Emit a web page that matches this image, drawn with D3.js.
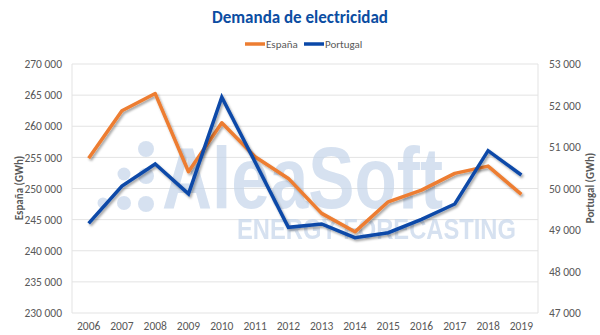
<!DOCTYPE html>
<html><head><meta charset="utf-8">
<script src="https://cdn.jsdelivr.net/npm/d3@7"></script>
<style>body{margin:0;background:#fff}svg{display:block;font-family:Calibri,Carlito,"Liberation Sans",Arial,sans-serif}</style>
</head><body><svg id="c" width="600" height="335"></svg>
<script>
const years = ["2006","2007","2008","2009","2010","2011","2012","2013","2014","2015","2016","2017","2018","2019"];
const espana = [254840,262490,265250,252690,260560,255100,251620,246000,243040,247860,249740,252430,253600,249050];
const portugal = [49160,50060,50590,49870,52200,50640,49065,49145,48815,48935,49257,49627,50911,50325];
const leftTicks = [230000,235000,240000,245000,250000,255000,260000,265000,270000];
const rightTicks = [47000,48000,49000,50000,51000,52000,53000];

const svg = d3.select("#c");
const L = 72, R = 538, T = 64, B = 313;
const x = d3.scaleBand().domain(years).range([L, R]);
const yL = d3.scaleLinear().domain([230000, 270000]).range([B, T]);
const yR = d3.scaleLinear().domain([47000, 53000]).range([B, T]);
const fmt = v => d3.format(",")(v).replace(/,/g, " ");

const defs = svg.append("defs");
const f = defs.append("filter").attr("id","sh").attr("x","-10%").attr("y","-10%").attr("width","120%").attr("height","130%");
f.append("feDropShadow").attr("dx",1.5).attr("dy",2).attr("stdDeviation",1.3).attr("flood-color","#000").attr("flood-opacity",0.35);

// gridlines
svg.append("g").selectAll("line").data(leftTicks).join("line")
  .attr("x1", L).attr("x2", R).attr("y1", d => yL(d)).attr("y2", d => yL(d))
  .attr("stroke", "#e3e3e3").attr("stroke-width", 1);
svg.append("line").attr("x1",L).attr("x2",L).attr("y1",T).attr("y2",B).attr("stroke","#e3e3e3");
svg.append("line").attr("x1",R).attr("x2",R).attr("y1",T).attr("y2",B).attr("stroke","#e3e3e3");

// watermark
const wm = svg.append("g").attr("fill", "#c5d5ea").attr("opacity", 0.7);
[[103,203,5.5],[124,174,6.5],[124,203,7],[146,149,8],[146,176,8],[146,204,8]].forEach(([cx,cy,r]) =>
  wm.append("circle").attr("cx",cx).attr("cy",cy).attr("r",r));
function wmText(txt, x0, y0, size, width) {
  const t = wm.append("text").attr("font-family","Liberation Sans, Arial, sans-serif")
    .attr("font-weight","bold").attr("font-size",size).text(txt);
  const len = t.node().getComputedTextLength();
  t.attr("transform", `translate(${x0},${y0}) scale(${width/len},1)`);
}
wmText("AleaSoft", 162, 208, 88, 281);
wmText("ENERGY FORECASTING", 237, 239, 29, 279);

// axes
const axL = svg.append("g").attr("transform",`translate(${L},0)`)
  .call(d3.axisLeft(yL).tickValues(leftTicks).tickFormat(fmt).tickSize(0).tickPadding(10));
const axR = svg.append("g").attr("transform",`translate(${R},0)`)
  .call(d3.axisRight(yR).tickValues(rightTicks).tickFormat(fmt).tickSize(0).tickPadding(11));
const axB = svg.append("g").attr("transform",`translate(0,${B})`)
  .call(d3.axisBottom(x).tickSize(0).tickPadding(9));
[axL, axR, axB].forEach(a => {
  a.select(".domain").remove();
  a.selectAll("text").attr("fill","#595959").attr("font-size",11.5).attr("font-family","Calibri,Carlito,'Open Sans',sans-serif");
});

// lines
const cx = d => x(d) + x.bandwidth()/2;
const lineL = d3.line().x((d,i) => cx(years[i])).y(d => yL(d));
const lineR = d3.line().x((d,i) => cx(years[i])).y(d => yR(d));
svg.append("path").datum(espana).attr("d", lineL).attr("fill","none").attr("stroke","#ED7D31")
  .attr("stroke-width",3.5).attr("stroke-linejoin","round").attr("filter","url(#sh)");
svg.append("path").datum(portugal).attr("d", lineR).attr("fill","none").attr("stroke","#0A48A8")
  .attr("stroke-width",3.5).attr("stroke-linejoin","miter").attr("filter","url(#sh)");

// titles
svg.append("text").attr("x",300).attr("y",23).attr("text-anchor","middle").attr("fill","#0B4DA2")
  .attr("font-weight","bold").attr("font-size",17).text("Demanda de electricidad");
svg.append("text").attr("transform","translate(23,188) rotate(-90)").attr("text-anchor","middle")
  .attr("fill","#595959").attr("font-weight","bold").attr("font-size",11).text("España (GWh)");
svg.append("text").attr("transform","translate(594,188) rotate(-90)").attr("text-anchor","middle")
  .attr("fill","#595959").attr("font-weight","bold").attr("font-size",11).text("Portugal (GWh)");

// legend
const leg = [{n:"España",c:"#ED7D31",x:245},{n:"Portugal",c:"#0A48A8",x:304}];
leg.forEach(l => {
  svg.append("line").attr("x1",l.x).attr("x2",l.x+20).attr("y1",44).attr("y2",44).attr("stroke",l.c).attr("stroke-width",3.5);
  svg.append("text").attr("x",l.x+21).attr("y",48).attr("fill","#595959").attr("font-size",11).text(l.n);
});
</script></body></html>
